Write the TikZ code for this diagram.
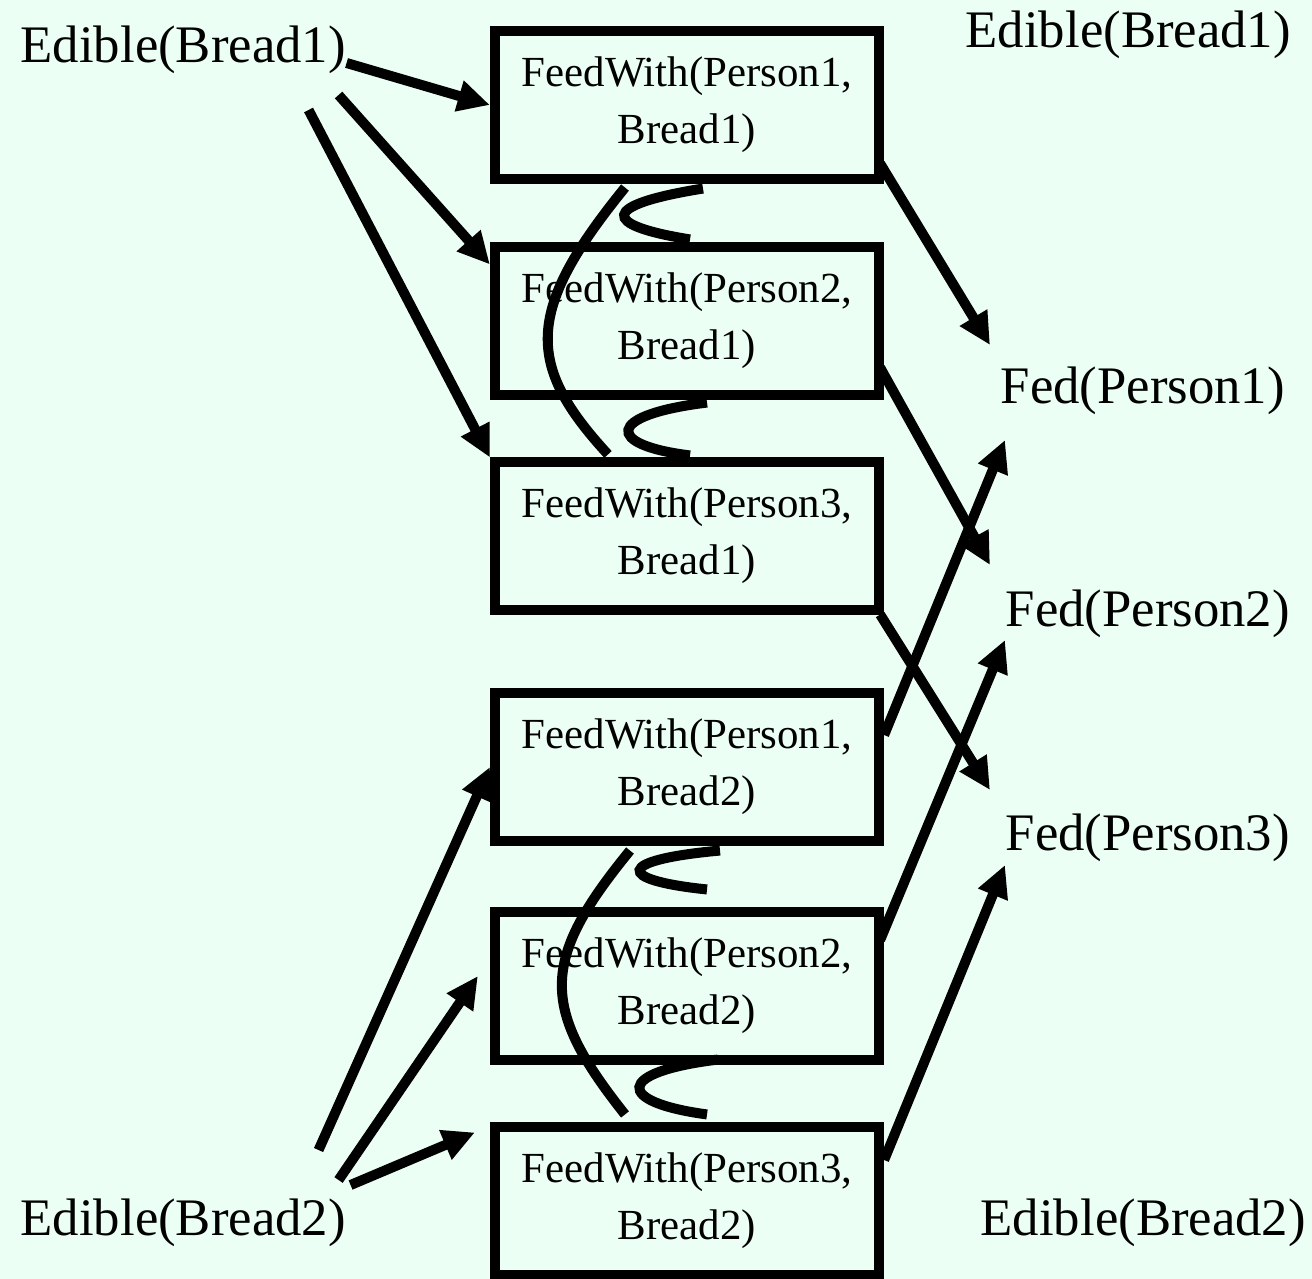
\documentclass[tikz,border=0pt]{standalone}
\usepackage{fontspec}
\setmainfont{Liberation Serif}
\usetikzlibrary{arrows.meta}
\definecolor{mint}{HTML}{EBFFF5}

\begin{document}
\begin{tikzpicture}[
    x=0.01cm, y=-0.01cm,
    action/.style={draw, line width=0.1cm, minimum width=3.84cm, minimum height=1.47cm,
      align=center, inner sep=0, font=\fontsize{12.2}{16.2}\selectfont},
    literal/.style={inner sep=0, anchor=base west, font=\fontsize{15}{18}\selectfont},
    arrow/.style={line width=0.1cm, -{Triangle[length=3.2mm,width=3mm]}},
    mutex/.style={line width=0.1cm}
  ]
  \fill[mint] (0,0) rectangle (1312,1279);
  \useasboundingbox (0,0) rectangle (1312,1279);

  % literals
  \node[literal] (e1) at (20,63) {Edible(Bread1)};
  \node[literal] (e1r) at (965,48) {Edible(Bread1)};
  \node[literal] (f1) at (1000,403) {Fed(Person1)};
  \node[literal] (f2) at (1005,626) {Fed(Person2)};
  \node[literal] (f3) at (1005,850) {Fed(Person3)};
  \node[literal] (e2) at (20,1235) {Edible(Bread2)};
  \node[literal] (e2r) at (980,1235) {Edible(Bread2)};

  % actions
  \node[action] (b1) at (687,105) {FeedWith(Person1,\\Bread1)};
  \node[action] (b2) at (687,321) {FeedWith(Person2,\\Bread1)};
  \node[action] (b3) at (687,536) {FeedWith(Person3,\\Bread1)};
  \node[action] (b4) at (687,767) {FeedWith(Person1,\\Bread2)};
  \node[action] (b5) at (687,986) {FeedWith(Person2,\\Bread2)};
  \node[action] (b6) at (687,1201) {FeedWith(Person3,\\Bread2)};

  % preconditions
  \draw[arrow] (e1.base east) -- (b1.west);
  \draw[arrow] ([shift={(-8,32)}]e1.base east) -- ([shift={(0,22)}]b2.north west);
  \draw[arrow] ([shift={(-38,47)}]e1.base east) -- (b3.north west);
  \draw[arrow] ([shift={(-28,-85)}]e2.base east) -- (b4.west);
  \draw[arrow] ([shift={(-8,-55)}]e2.base east) -- ([shift={(-12,-10)}]b5.west);
  \draw[arrow] ([shift={(4,-50)}]e2.base east) -- ([shift={(-15,10)}]b6.north west);

  % effects
  \draw[arrow] ([shift={(-4,-20)}]b1.south east) -- ([shift={(-10,-58)}]f1.base west);
  \draw[arrow] ([shift={(-4,-32)}]b2.south east) -- ([shift={(-15,-61)}]f2.base west);
  \draw[arrow] ([shift={(-4,0)}]b3.south east) -- ([shift={(-15,-60)}]f3.base west);
  \draw[arrow] ([shift={(0,-32)}]b4.east) -- ([shift={(5,37)}]f1.base west);
  \draw[arrow] ([shift={(-4,-46)}]b5.east) -- ([shift={(0,14)}]f2.base west);
  \draw[arrow] ([shift={(0,-41)}]b6.east) -- ([shift={(0,15)}]f3.base west);

  % mutexes
  \draw[mutex] ([shift={(-62,4)}]b1.south) .. controls +(-100,123) and +(-83,-90) .. ([shift={(-79,-3)}]b3.north);
  \draw[mutex] ([shift={(16,5)}]b1.south) .. controls (600,205) and (600,225) .. ([shift={(3,-3)}]b2.north);
  \draw[mutex] ([shift={(20,3)}]b2.south) .. controls (605,415) and (605,445) .. ([shift={(3,-2)}]b3.north);
  \draw[mutex] ([shift={(-57,5)}]b4.south) .. controls +(-90,110) and +(-85,-107) .. ([shift={(-62,-8)}]b6.north);
  \draw[mutex] ([shift={(33,5)}]b4.south) .. controls (615,860) and (615,880) .. ([shift={(20,-18)}]b5.north);
  \draw[mutex] ([shift={(31,-5)}]b5.south) .. controls (615,1072) and (615,1102) .. ([shift={(20,-8)}]b6.north);
\end{tikzpicture}
\end{document}
